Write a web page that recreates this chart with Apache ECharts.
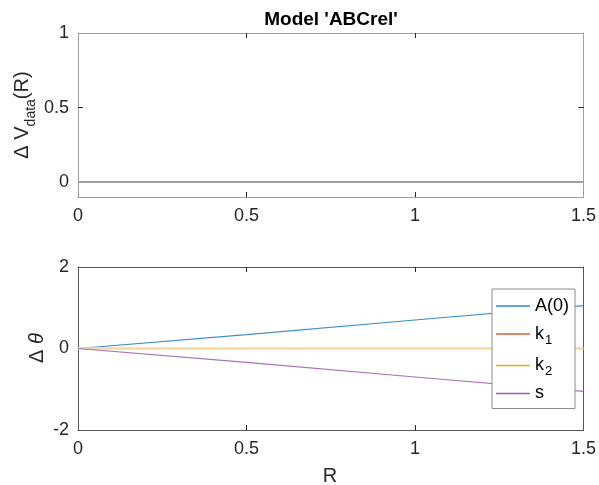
<!DOCTYPE html>
<html>
<head>
<meta charset="utf-8">
<script src="https://cdn.jsdelivr.net/npm/echarts@6/dist/echarts.min.js"></script>
<style>html,body{margin:0;padding:0;background:#fff}#c{width:599px;height:485px}</style>
</head>
<body>
<div id="c"></div>
<script>
// ---- data ----
const R = [0, 0.5, 1, 1.5];
const dV = [0, 0, 0, 0];
const A0 = [0, 0.34, 0.70, 1.05];
const k1 = [0, 0, 0, 0];
const k2 = [0, 0, 0, 0];
const sVals = [0, -0.34, -0.70, -1.05];
const xTicks = [0, 0.5, 1, 1.5];
const yTicksTop = [0, 0.5, 1];
const yTicksBottom = [-2, 0, 2];
const seriesNames = ['A(0)', 'k1', 'k2', 's'];

const FONT = '"Liberation Sans", Arial, Helvetica, sans-serif';
const pairs = (xs, ys) => xs.map((x, i) => [x, ys[i]]);

const chart = echarts.init(document.getElementById('c'), null, {renderer: 'canvas'});

function xAx(grid, pos, frameColor, showLabel) {
  return {
    type: 'value', gridIndex: grid, position: pos, min: 0, max: 1.5, interval: 0.5,
    axisLine: {show: true, onZero: false, lineStyle: {color: frameColor, width: 1}},
    axisTick: {show: true, inside: true, length: 5, lineStyle: {color: '#262626'}, customValues: [0.5, 1]},
    axisLabel: {show: showLabel, customValues: xTicks, margin: 10, fontSize: 18, color: '#262626', fontFamily: FONT},
    splitLine: {show: false}
  };
}
function yAx(grid, pos, frameColor, min, max, labels, ticks, showLabel) {
  return {
    type: 'value', gridIndex: grid, position: pos, min: min, max: max,
    axisLine: {show: true, onZero: false, lineStyle: {color: frameColor, width: 1}},
    axisTick: {show: true, inside: true, length: 5, lineStyle: {color: '#262626'}, customValues: ticks},
    axisLabel: {show: showLabel, customValues: labels, margin: 9, fontSize: 18, color: '#262626', fontFamily: FONT,
      formatter: v => String(v)},
    splitLine: {show: false}
  };
}

const topFrame = '#9f9f9f';
const botFrame = '#555555';
const colA = '#2f86c8', colK1 = '#d9622e', colK2 = '#e6aa1c', colS = '#9a5cb0';

const legendRich = {
  n: {fontSize: 18, lineHeight: 25, color: '#000', fontFamily: FONT},
  s: {fontSize: 13, lineHeight: 13, padding: [12, 0, 0, 1], color: '#000', fontFamily: FONT}
};

chart.setOption({
  animation: false,
  backgroundColor: '#fff',
  grid: [
    {left: 78, right: 15, top: 33, height: 164},
    {left: 78, right: 15, top: 267, height: 163}
  ],
  xAxis: [
    xAx(0, 'bottom', topFrame, true),
    xAx(0, 'top', topFrame, false),
    xAx(1, 'bottom', botFrame, true),
    xAx(1, 'top', botFrame, false)
  ],
  yAxis: [
    yAx(0, 'left', topFrame, -0.1, 1, yTicksTop, [0.5], true),
    yAx(0, 'right', topFrame, -0.1, 1, yTicksTop, [0.5], false),
    yAx(1, 'left', botFrame, -2, 2, yTicksBottom, [0], true),
    yAx(1, 'right', botFrame, -2, 2, yTicksBottom, [0], false)
  ],
  legend: {
    left: 492, top: 289, orient: 'vertical',
    backgroundColor: '#fff', borderColor: '#8c8c8c', borderWidth: 1,
    padding: [8, 6, 6, 4], itemGap: 6.5, itemWidth: 34, itemHeight: 1.4,
    icon: 'rect',
    selectedMode: false,
    textStyle: {rich: legendRich, fontFamily: FONT},
    formatter: name => {
      if (name === 'k1') return '{n|k}{s|1}';
      if (name === 'k2') return '{n|k}{s|2}';
      return '{n|' + name + '}';
    },
    data: [
      {name: 'A(0)', itemStyle: {color: colA}},
      {name: 'k1', itemStyle: {color: colK1}},
      {name: 'k2', itemStyle: {color: colK2}},
      {name: 's', itemStyle: {color: colS}}
    ]
  },
  series: [
    {type: 'line', name: 'dV', xAxisIndex: 0, yAxisIndex: 0, data: pairs(R, dV), symbol: 'none',
      color: '#a0a0a0', lineStyle: {color: '#a0a0a0', width: 2}, z: 3},
    {type: 'line', name: seriesNames[0], xAxisIndex: 2, yAxisIndex: 2, data: pairs(R, A0), symbol: 'none',
      color: colA, lineStyle: {color: '#3a8fd0', width: 1.2}},
    {type: 'line', name: seriesNames[1], xAxisIndex: 2, yAxisIndex: 2, data: pairs(R, k1), symbol: 'none',
      color: colK1, lineStyle: {color: '#e07b50', width: 1.2}},
    {type: 'line', name: seriesNames[2], xAxisIndex: 2, yAxisIndex: 2, data: pairs(R, k2), symbol: 'none',
      color: colK2, lineStyle: {color: '#f5da9c', width: 2.5}},
    {type: 'line', name: seriesNames[3], xAxisIndex: 2, yAxisIndex: 2, data: pairs(R, sVals), symbol: 'none',
      color: colS, lineStyle: {color: '#a870bd', width: 1.2}}
  ],
  graphic: [
    {type: 'text', x: 331, y: 20, z: 100,
      style: {text: "Model 'ABCrel'", align: 'center', verticalAlign: 'middle',
        font: 'bold 19px ' + FONT, fill: '#000'}},
    {type: 'text', x: 22, y: 115, rotation: Math.PI / 2, z: 100,
      style: {text: '{a|Δ V}{b|data}{a|(R)}', align: 'center', verticalAlign: 'middle',
        rich: {
          a: {fontSize: 20, lineHeight: 24, fill: '#262626', fontFamily: FONT},
          b: {fontSize: 14, lineHeight: 14, padding: [18, 0, 0, 0], fill: '#262626', fontFamily: FONT}
        }}},
    {type: 'text', x: 37, y: 348, rotation: Math.PI / 2, z: 100,
      style: {text: '{a|Δ }{b|θ}', align: 'center', verticalAlign: 'middle',
        rich: {
          a: {fontSize: 20, lineHeight: 24, fill: '#262626', fontFamily: FONT},
          b: {fontSize: 20, lineHeight: 24, fontStyle: 'italic', fill: '#262626', fontFamily: FONT}
        }}},
    {type: 'text', x: 330, y: 476, z: 100,
      style: {text: 'R', align: 'center', verticalAlign: 'middle', font: '20px ' + FONT, fill: '#262626'}}
  ]
});
</script>
</body>
</html>
